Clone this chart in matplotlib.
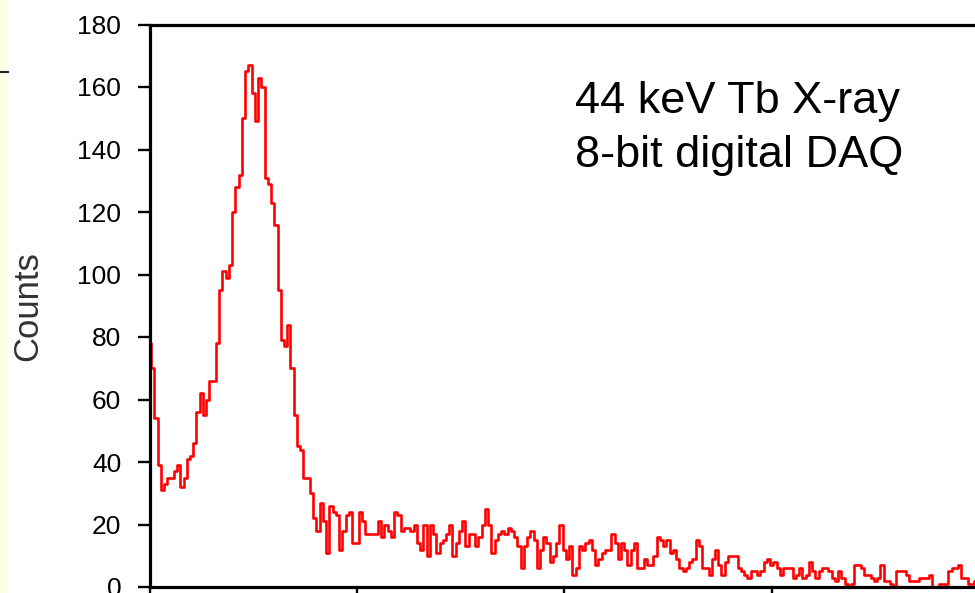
import numpy as np
import matplotlib.pyplot as plt
from matplotlib.patches import Rectangle
from matplotlib.lines import Line2D

plt.rcParams['font.family'] = ['Liberation Sans', 'DejaVu Sans']

# Pulse-height spectrum, 256 ADC channels (8-bit)
counts_0_63 = [78, 70, 54, 39, 31, 33, 35, 35, 37, 39,
               32, 35, 41, 42, 46, 56, 62, 55, 60, 66,
               66, 78, 95, 101, 99, 103, 120, 128, 132, 150,
               165, 167, 158, 149, 163, 160, 131, 129, 123, 116,
               95, 79, 77, 84, 70, 55, 45, 44, 35, 35,
               30, 22, 18, 27, 21, 11, 26, 24, 23, 12,
               18, 23, 24, 14]
counts_64_127 = [14, 24, 21, 17, 17, 17, 17, 21, 16, 20,
                 18, 16, 24, 23, 18, 19, 19, 18, 20, 14,
                 12, 20, 10, 20, 17, 11, 14, 15, 17, 20,
                 10, 14, 18, 21, 13, 17, 17, 13, 16, 20,
                 25, 20, 11, 15, 17, 18, 17, 19, 18, 16,
                 13, 6, 13, 16, 18, 15, 6, 12, 16, 14,
                 8, 10, 14, 20]
counts_128_191 = [12, 9, 13, 4, 6, 13, 12, 14, 15, 12,
                  7, 9, 11, 12, 12, 17, 14, 9, 14, 12,
                  7, 12, 14, 6, 6, 9, 7, 7, 10, 16,
                  15, 13, 15, 11, 12, 9, 6, 5, 6, 8,
                  9, 15, 13, 6, 6, 4, 9, 12, 7, 4,
                  8, 10, 10, 10, 6, 5, 4, 3, 5, 5,
                  4, 5, 8, 9]
counts_192_255 = [7, 8, 6, 4, 6, 6, 6, 3, 4, 6,
                  3, 4, 8, 5, 3, 5, 6, 6, 5, 3,
                  2, 5, 3, 1, 0, 1, 7, 7, 6, 4,
                  4, 3, 2, 3, 7, 2, 2, 1, 0, 5,
                  5, 5, 4, 2, 2, 2, 3, 3, 3, 4,
                  0, 0, 1, 1, 1, 5, 6, 6, 7, 3,
                  3, 1, 1, 2]

y_ticks = np.arange(0, 181, 20)
x_ticks = [0, 64, 128, 192, 256]
label_lines = ['44 keV Tb X-ray', '8-bit digital DAQ']

counts = np.concatenate([counts_0_63, counts_64_127, counts_128_191, counts_192_255])
channels = np.arange(len(counts))

W, H = 975, 593
fig = plt.figure(figsize=(W / 100, H / 100), dpi=100)

# slide background strip on the left edge
fig.add_artist(Rectangle((0, 0), 8 / W, 1, transform=fig.transFigure,
                         facecolor='#FEFEE2', edgecolor='none'))
fig.add_artist(Line2D([0, 8 / W], [1 - 71.5 / H] * 2, transform=fig.transFigure,
                      color='#222222', lw=1.5))

ax = fig.add_axes([149.5 / W, 6 / H, 829.6 / W, 562.5 / H])
ax.step(channels, counts, where='mid', color='#FF0000', lw=1.9)

ax.set_xlim(0, 256)
ax.set_ylim(0, 180)
ax.set_yticks(y_ticks)
ax.set_xticks(x_ticks)
ax.tick_params(axis='y', direction='out', length=8.4, width=1.7, pad=12,
               labelsize=19, colors='black')
ax.tick_params(axis='x', direction='out', length=8.4, width=1.7,
               labelbottom=False)
for side in ['left', 'bottom', 'top', 'right']:
    ax.spines[side].set_linewidth(2.3)

ax.set_ylabel('Counts', fontsize=25, color='#333333', va='center')
ax.yaxis.set_label_coords((28 - 149.5) / 829.6, 0.5)

fig.text(575 / W, 1 - 113.3 / H, label_lines[0], fontsize=32.5, va='baseline')
fig.text(575 / W, 1 - 166.7 / H, label_lines[1], fontsize=32.5, va='baseline')

fig.savefig('out.png', dpi=100)
